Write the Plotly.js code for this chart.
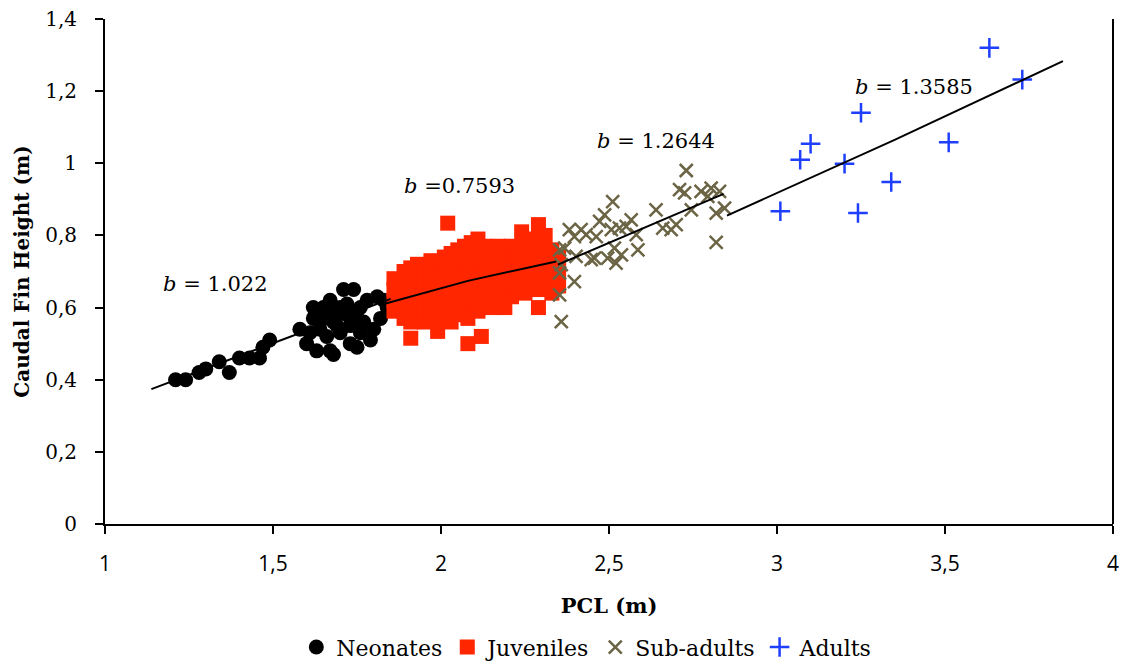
<!DOCTYPE html>
<html><head><meta charset="utf-8">
<script src="https://cdn.plot.ly/plotly-3.0.1.min.js"></script>
<style>body{margin:0;background:#fff}#chart{width:1122px;height:661px}</style>
</head><body><div id="chart"></div><script>
// Neonates
const neoX=[1.21,1.24,1.28,1.30,1.34,1.37,1.40,1.43,1.46,1.47,1.49,
1.58,1.60,1.61,1.62,1.63,1.64,1.65,1.65,1.66,1.67,1.67,1.68,1.69,1.70,1.70,1.71,1.72,1.73,1.73,1.74,1.75,1.75,1.76,1.77,1.78,1.79,1.80,1.81,1.82,1.83,1.84,1.64,1.69,1.72,1.62,1.66,1.68,1.74,1.76];
const neoY=[0.40,0.40,0.42,0.43,0.45,0.42,0.46,0.46,0.46,0.49,0.51,
0.54,0.50,0.53,0.57,0.48,0.54,0.60,0.57,0.52,0.62,0.48,0.47,0.58,0.53,0.60,0.65,0.61,0.50,0.55,0.65,0.49,0.59,0.60,0.56,0.62,0.51,0.54,0.63,0.57,0.62,0.60,0.57,0.55,0.58,0.60,0.59,0.56,0.57,0.53];
// Juveniles
const juvX=[1.86,1.86,1.86,1.86,1.87,1.87,1.87,1.89,1.89,1.89,1.89,
1.91,1.91,1.91,1.91,1.91,1.91,1.93,1.93,1.93,1.93,1.93,1.95,1.95,1.95,1.95,1.95,
1.97,1.97,1.97,1.97,1.97,1.99,1.99,1.99,1.99,1.99,1.99,2.01,2.01,2.01,2.01,2.01,2.02,
2.03,2.03,2.03,2.03,2.03,2.03,2.05,2.05,2.05,2.05,2.05,2.07,2.07,2.07,2.07,2.07,2.08,2.08,
2.09,2.09,2.09,2.09,2.09,2.11,2.11,2.11,2.11,2.11,2.11,2.12,2.13,2.13,2.13,2.13,2.13,
2.15,2.15,2.15,2.15,2.15,2.17,2.17,2.17,2.17,2.17,2.19,2.19,2.19,2.19,2.19,
2.21,2.21,2.21,2.21,2.21,2.23,2.23,2.23,2.23,2.24,2.25,2.25,2.25,2.25,2.25,
2.27,2.27,2.27,2.27,2.29,2.29,2.29,2.29,2.29,2.29,2.31,2.31,2.31,2.31,2.33,2.33,2.33,2.33,2.35,2.35,2.35];
const juvY=[0.59,0.62,0.65,0.68,0.60,0.64,0.67,0.57,0.61,0.66,0.70,
0.515,0.56,0.60,0.63,0.67,0.71,0.58,0.62,0.65,0.69,0.72,0.56,0.60,0.64,0.67,0.71,
0.58,0.62,0.66,0.70,0.73,0.534,0.57,0.61,0.64,0.68,0.72,0.59,0.63,0.66,0.70,0.74,0.834,
0.56,0.61,0.65,0.69,0.72,0.75,0.58,0.62,0.67,0.71,0.76,0.60,0.64,0.68,0.73,0.77,0.50,0.57,
0.62,0.66,0.70,0.75,0.78,0.59,0.63,0.68,0.72,0.76,0.79,0.52,0.61,0.65,0.70,0.74,0.77,
0.60,0.64,0.68,0.72,0.76,0.62,0.66,0.70,0.74,0.77,0.60,0.64,0.68,0.72,0.76,
0.63,0.67,0.71,0.75,0.77,0.65,0.69,0.73,0.76,0.81,0.64,0.68,0.72,0.75,0.78,
0.66,0.70,0.74,0.79,0.60,0.65,0.69,0.73,0.77,0.83,0.67,0.71,0.75,0.80,0.64,0.68,0.72,0.76,0.66,0.70,0.74];
// Sub-adults
const subX=[2.73,2.71,2.725,2.774,2.804,2.794,2.829,2.819,2.844,2.819,2.64,2.66,2.70,2.685,2.745,
2.511,2.487,2.472,2.507,2.531,2.566,2.551,2.581,2.586,2.516,2.521,2.496,2.457,2.462,2.432,2.417,2.382,2.397,
2.368,2.353,2.358,2.353,2.397,2.353,2.358,2.447,2.402,2.537];
const subY=[0.98,0.927,0.918,0.922,0.931,0.908,0.922,0.862,0.876,0.781,0.871,0.82,0.83,0.816,0.871,
0.894,0.857,0.839,0.816,0.82,0.843,0.825,0.802,0.76,0.765,0.723,0.737,0.737,0.797,0.802,0.816,0.816,0.797,
0.765,0.76,0.719,0.696,0.672,0.635,0.561,0.733,0.742,0.746];
// Adults
const adX=[3.632,3.73,3.25,3.10,3.069,3.201,3.511,3.34,3.01,3.241];
const adY=[1.32,1.232,1.14,1.054,1.01,0.999,1.058,0.948,0.867,0.862];
// Trend lines
const neoFitX=[1.138,1.85], neoFitY=[0.374,0.624];
const juvFitX=[1.822,2.08,2.343], juvFitY=[0.608,0.674,0.728];
const subFitX=[2.348,2.841], subFitY=[0.719,0.915];
const adFitX=[2.851,3.35,3.851], adFitY=[0.855,1.065,1.283];
const slopeLabels=['<i>b</i> = 1.022','<i>b</i> =0.7593','<i>b</i> = 1.2644','<i>b</i> = 1.3585'];

const SERIF='DejaVu Serif';
const fitLine={color:'#000',width:2};
const traces=[
 {x:neoX,y:neoY,type:'scatter',mode:'markers',name:'Neonates',marker:{symbol:'circle',size:15,color:'#000'}},
 {x:juvX,y:juvY,type:'scatter',mode:'markers',name:'Juveniles',marker:{symbol:'square',size:15,color:'#ff2600'}},
 {x:subX,y:subY,type:'scatter',mode:'markers',name:'Sub-adults',marker:{symbol:'x-thin',size:13,color:'#6b6545',line:{color:'#6b6545',width:2.5}}},
 {x:adX,y:adY,type:'scatter',mode:'markers',name:'Adults',marker:{symbol:'cross-thin',size:14,color:'#1f3fff',line:{color:'#1f3fff',width:2.5}}},
 {x:neoFitX,y:neoFitY,type:'scatter',mode:'lines',line:fitLine,showlegend:false,hoverinfo:'skip'},
 {x:juvFitX,y:juvFitY,type:'scatter',mode:'lines',line:fitLine,showlegend:false,hoverinfo:'skip'},
 {x:subFitX,y:subFitY,type:'scatter',mode:'lines',line:fitLine,showlegend:false,hoverinfo:'skip'},
 {x:adFitX,y:adFitY,type:'scatter',mode:'lines',line:fitLine,showlegend:false,hoverinfo:'skip'}
];
const annPos=[[1.168,0.666],[1.885,0.938],[2.457,1.063],[3.225,1.2125]];
const layout={
 width:1122,height:661,
 margin:{l:105,r:9,t:19,b:137,autoexpand:false},
 paper_bgcolor:'#fff',plot_bgcolor:'#fff',
 separators:', ',
 showlegend:true,
 xaxis:{range:[1,4],dtick:0.5,tick0:1,showgrid:false,zeroline:false,showline:true,linecolor:'#000',linewidth:2,
   ticks:'outside',ticklen:8,tickwidth:2,tickcolor:'#000',ticklabelstandoff:12,automargin:false,
   tickfont:{family:'Open Sans',size:21,color:'#000'},
   title:{text:'<b>PCL (m)</b>',font:{family:SERIF,size:21,color:'#000'},standoff:22}},
 yaxis:{range:[0,1.4],dtick:0.2,tick0:0,showgrid:false,zeroline:false,showline:true,linecolor:'#000',linewidth:2,
   ticks:'outside',ticklen:8,tickwidth:2,tickcolor:'#000',ticklabelstandoff:14,automargin:false,
   tickfont:{family:SERIF,size:20,color:'#000'},
   title:{text:'<b>Caudal Fin Height (m)</b>',font:{family:SERIF,size:20,color:'#000'},standoff:10}},
 legend:{orientation:'h',x:0.478,xanchor:'center',y:-0.244,yanchor:'middle',font:{family:SERIF,size:22,color:'#000'},itemwidth:30,tracegroupgap:0},
 annotations:slopeLabels.map((t,i)=>({x:annPos[i][0],y:annPos[i][1],xref:'x',yref:'y',text:t,showarrow:false,xanchor:'left',yanchor:'middle',font:{family:SERIF,size:21,color:'#000'}})),
 shapes:[{type:'line',xref:'paper',yref:'paper',x0:1,x1:1,y0:0,y1:1,line:{color:'#000',width:2}}]
};
Plotly.newPlot('chart',traces,layout,{displayModeBar:false,staticPlot:true});
</script></body></html>
